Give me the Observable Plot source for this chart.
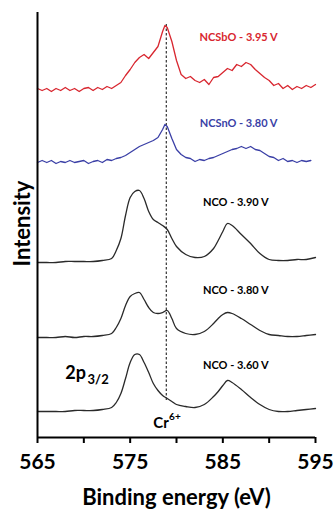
<!DOCTYPE html>
<html><head><meta charset="utf-8">
<script src="https://cdn.jsdelivr.net/npm/d3@7"></script>
<script src="https://cdn.jsdelivr.net/npm/@observablehq/plot@0.6"></script>
<style>body{margin:0;background:#fff} svg{display:block}</style>
</head><body><div id="chart"></div>
<script>
// Binding energy grid (eV) for the smooth NCO spectra
const energy = [565,566,567,568,569,570,571,572,573,
  573.5,574,574.5,575,575.5,576,576.5,577,577.5,578,578.5,579,579.5,580,
  581,582,583,584,584.5,585,585.5,586,
  587,588,589,590,591,592,593,594,595];
// Stacked intensities (a.u.)
const nco390 = [175,175,175,176,176,176,176,177,179,
  187,199,222,240,246,247,239,226,218,215,212,208,199,191,
  183,180,181,189,197,206,214,212,
  203,194,184,178,177,177,178,178,180];
const nco380 = [100,100,100,101,100,101,101,102,104,
  110,119,132,141,144,145,138,130,125,124,125,127,119,109,
  104,103,106,114,119,123,125,124,
  119,113,107,103,102,101,101,102,103];
const nco360 = [26,26,26,26,27,27,27,28,30,
  35,44,59,75,83,83,75,65,54,47,42,39,36,33,
  31,30,33,41,46,52,57,55,
  48,40,33,28,26,26,27,28,29];
// Denser grid for the noisy doped spectra
const noisyEnergy = [565,565.5,566,566.5,567,567.5,568,568.5,569,569.5,570,570.5,571,571.5,572,572.5,573,573.5,574,574.5,575,575.5,576,576.5,577,577.5,578,578.5,
  578.75,
  579,579.5,580,580.5,581,581.5,582,582.5,583,583.5,584,584.5,585,585.5,586,586.5,587,587.5,588,588.5,589,589.5,590,590.5,591,591.5,592,592.5,593,593.5,594,594.5,595];
const ncsbo = [349,347,349,346,349,347,350,347,349,346,349,350,347,350,348,351,349,352,355,362,368,375,380,383,379,385,391,406,
  412,
  410,396,377,363,359,361,357,355,358,353,360,361,365,369,367,373,371,375,373,368,364,360,357,352,354,349,352,348,351,349,352,350,353];
const ncsno = [275,277,275,277,274,276,275,277,275,276,277,274,276,277,275,278,277,279,280,282,285,288,291,293,295,297,300,308,
  313,
  311,299,288,283,280,279,276,278,277,279,280,282,284,286,288,289,291,289,291,288,287,284,281,280,277,279,276,277,275,277,276,277];
const xTicks = [565,570,575,580,585,590,595];
const xTickLabels = [565,575,585,595];
const cr6Energy = 578.9;
const seriesLabels = ["NCSbO - 3.95 V","NCSnO - 3.80 V","NCO - 3.90 V","NCO - 3.80 V","NCO - 3.60 V"];

const rows = (xs, ys) => xs.map((x, i) => ({x, y: ys[i]}));
const RED = "#d8262f", BLUE = "#3a3fa6", BLACK = "#2a2a2a";
const FONT = "Lato, 'Open Sans', sans-serif";

const chart = Plot.plot({
  width: 334, height: 511,
  marginLeft: 37, marginRight: 19, marginTop: 12, marginBottom: 74,
  x: {domain: [565, 595]},
  y: {domain: [0, 425], axis: null},
  style: {fontFamily: FONT, fontWeight: "bold", background: "white", color: "black"},
  marks: [
    Plot.ruleX([cr6Energy], {y1: 37, y2: 414, stroke: "#333", strokeDasharray: "2.5,2", strokeWidth: 1.2}),
    Plot.line(rows(noisyEnergy, ncsbo), {x: "x", y: "y", stroke: RED, strokeWidth: 1.3}),
    Plot.line(rows(noisyEnergy, ncsno), {x: "x", y: "y", stroke: BLUE, strokeWidth: 1.3}),
    Plot.line(rows(energy, nco390), {x: "x", y: "y", stroke: BLACK, strokeWidth: 1.3, curve: "catmull-rom"}),
    Plot.line(rows(energy, nco380), {x: "x", y: "y", stroke: BLACK, strokeWidth: 1.3, curve: "catmull-rom"}),
    Plot.line(rows(energy, nco360), {x: "x", y: "y", stroke: BLACK, strokeWidth: 1.3, curve: "catmull-rom"}),
    Plot.ruleY([0], {strokeWidth: 2, stroke: "black"}),
    Plot.ruleX([565], {y1: 0, y2: 425, strokeWidth: 2, stroke: "black"}),
    Plot.axisX({ticks: xTicks, tickSize: 6, tickPadding: 11, strokeWidth: 2, fontSize: 21, fontWeight: "bold",
      tickFormat: d => xTickLabels.includes(d) ? String(d) : "", label: null}),
    Plot.text(["Binding energy (eV)"], {frameAnchor: "bottom", dy: 67, fontSize: 22, fontWeight: "bold"}),
    Plot.text(["Intensity"], {x: 563.38, y: 214, rotate: -90, fontSize: 22, fontWeight: "bold"}),
    Plot.text([seriesLabels[0]], {x: 586.7, y: 400, fill: RED, fontSize: 11, fontWeight: "bold"}),
    Plot.text([seriesLabels[1]], {x: 586.7, y: 314, fill: BLUE, fontSize: 11, fontWeight: "bold"}),
    Plot.text([seriesLabels[2]], {x: 586.4, y: 235, fill: "black", fontSize: 11, fontWeight: "bold"}),
    Plot.text([seriesLabels[3]], {x: 586.4, y: 147, fill: "black", fontSize: 11, fontWeight: "bold"}),
    Plot.text([seriesLabels[4]], {x: 586.4, y: 72, fill: "black", fontSize: 11, fontWeight: "bold"}),
    Plot.text(["2p"], {x: 568.0, y: 64, textAnchor: "start", fontSize: 18, fontWeight: "bold"}),
    Plot.text(["3/2"], {x: 570.4, y: 58, textAnchor: "start", fontSize: 13, fontWeight: "bold"}),
    Plot.text(["Cr"], {x: 577.5, y: 14, textAnchor: "start", fontSize: 15, fontWeight: "bold"}),
    Plot.text(["6+"], {x: 579.2, y: 21, textAnchor: "start", fontSize: 10, fontWeight: "bold"})
  ]
});
document.getElementById("chart").append(chart);
</script>
</body></html>
